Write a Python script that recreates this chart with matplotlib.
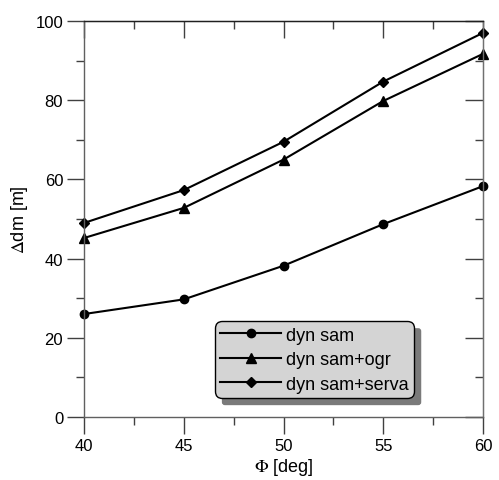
import matplotlib
matplotlib.use("Agg")
import matplotlib.pyplot as plt
from matplotlib.patches import FancyBboxPatch
from matplotlib.ticker import MultipleLocator

plt.rcParams['font.family'] = ['Liberation Sans', 'DejaVu Sans']
plt.rcParams['mathtext.fontset'] = 'stix'

phi = [40, 45, 50, 55, 60]
dyn_sam = [26.0, 29.7, 38.2, 48.7, 58.3]
dyn_sam_ogr = [45.2, 52.8, 65.0, 79.8, 91.7]
dyn_sam_serva = [49.0, 57.3, 69.5, 84.7, 97.0]
labels = ["dyn sam", "dyn sam+ogr", "dyn sam+serva"]

fig = plt.figure(figsize=(4.99, 4.81), dpi=100)
ax = fig.add_axes([84/499, 63/481, 399/499, 396/481])

kw = dict(color='black', lw=1.5)
ax.plot(phi, dyn_sam, marker='o', ms=6, label=labels[0], clip_on=False, **kw)
ax.plot(phi, dyn_sam_ogr, marker='^', ms=7, label=labels[1], clip_on=False, **kw)
ax.plot(phi, dyn_sam_serva, marker='D', ms=5.5, label=labels[2], clip_on=False, **kw)

ax.set_xlim(40, 60)
ax.set_ylim(0, 100)
ax.xaxis.set_major_locator(MultipleLocator(5))
ax.xaxis.set_minor_locator(MultipleLocator(2.5))
ax.yaxis.set_major_locator(MultipleLocator(20))
ax.yaxis.set_minor_locator(MultipleLocator(10))

ax.spines['left'].set_color('#606060')
ax.spines['bottom'].set_color('#606060')
ax.spines['right'].set_color('#707070')
ax.spines['top'].set_color('#202020')
for s in ax.spines.values():
    s.set_linewidth(1.0)

tc = '#404040'
ax.tick_params(which='major', direction='out', length=12, width=1, color=tc, labelsize=12, pad=3)
ax.tick_params(which='minor', direction='out', length=6, width=1, color=tc)

# top and right: inward ticks without labels
sx = ax.secondary_xaxis('top')
sx.xaxis.set_major_locator(MultipleLocator(5))
sx.xaxis.set_minor_locator(MultipleLocator(2.5))
sx.tick_params(which='major', direction='in', length=12, width=1, color=tc, labeltop=False)
sx.tick_params(which='minor', direction='in', length=6, width=1, color=tc)
sx.spines['top'].set_color('#202020')
sy = ax.secondary_yaxis('right')
sy.yaxis.set_major_locator(MultipleLocator(20))
sy.yaxis.set_minor_locator(MultipleLocator(10))
sy.tick_params(which='major', direction='in', length=13, width=1, color=tc, labelright=False)
sy.tick_params(which='minor', direction='in', length=6, width=1, color=tc)
sy.spines['right'].set_color('#707070')

ax.set_xlabel(r'$\Phi$ [deg]', fontsize=13, labelpad=2)
ax.set_ylabel(r'$\Delta$dm [m]', fontsize=13, labelpad=4)

leg = ax.legend(loc='upper left', bbox_to_anchor=(0.328, 0.242), fontsize=13,
                frameon=True, fancybox=True, framealpha=1, handlelength=3.35,
                borderpad=0.3, labelspacing=0.42, handletextpad=0.3,
                borderaxespad=0)
frame = leg.get_frame()
frame.set_facecolor('#d4d4d4')
frame.set_edgecolor('black')
frame.set_linewidth(1.0)
frame.set_boxstyle('round,pad=0,rounding_size=0.4')
leg.set_zorder(6)

fig.canvas.draw()
bb = leg.get_window_extent().transformed(fig.transFigure.inverted())
dx, dy = 7/499, 7/481
shadow = FancyBboxPatch((bb.x0 + dx, bb.y0 - dy), bb.width, bb.height,
                        boxstyle='round,pad=0,rounding_size=0.006',
                        transform=fig.transFigure, facecolor='#7a7a7a',
                        edgecolor='none', zorder=5, clip_on=False)
ax.add_patch(shadow)

fig.savefig('out.png', dpi=100)
